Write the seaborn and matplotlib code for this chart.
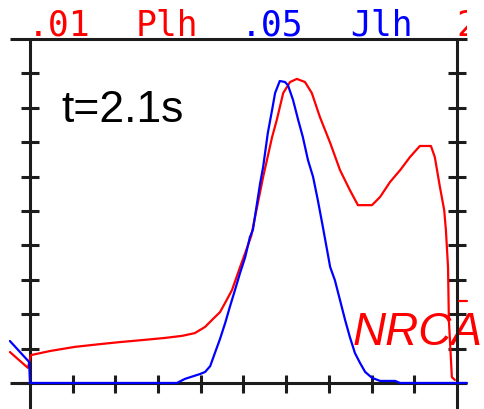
import matplotlib
matplotlib.use("Agg")
import matplotlib.pyplot as plt
from matplotlib.transforms import Bbox, TransformedBbox
import numpy as np
import pandas as pd
import seaborn as sns

# Plh trace (red)
red_x = [-0.47, -0.05, 0.02, 0.47, 1.05, 1.64, 2.11, 2.65, 3.16, 3.56, 3.86, 4.10,
         4.26, 4.45, 4.57, 4.73, 4.92, 5.04, 5.18, 5.46, 5.67, 5.78, 5.93, 6.09,
         6.25, 6.44, 6.60, 6.79, 7.03, 7.26, 7.49, 7.68, 8.01, 8.20, 8.43, 8.67,
         8.90, 9.13, 9.39, 9.48, 9.60, 9.70, 9.74, 9.79, 9.81, 9.88, 9.95]
red_y = [0.90, 0.44, 0.81, 0.93, 1.05, 1.13, 1.19, 1.25, 1.31, 1.37, 1.45, 1.63,
         1.83, 2.06, 2.33, 2.70, 3.37, 3.78, 4.27, 5.99, 7.15, 7.65, 8.43, 8.75,
         8.84, 8.75, 8.43, 7.73, 6.98, 6.19, 5.61, 5.17, 5.17, 5.41, 5.84, 6.19,
         6.57, 6.89, 6.89, 6.57, 5.70, 5.03, 4.45, 3.37, 1.83, 0.17, 0.09]

# Jlh trace (blue)
blue_x = [-0.47, -0.02, 0.0, 3.44, 3.63, 3.98, 4.10, 4.22, 4.33, 4.45, 4.57, 4.68,
          4.80, 4.92, 5.04, 5.15, 5.22, 5.39, 5.46, 5.57, 5.67, 5.74, 5.85, 5.97,
          6.04, 6.16, 6.28, 6.39, 6.51, 6.63, 6.74, 6.86, 7.03, 7.14, 7.26, 7.38,
          7.49, 7.61, 7.73, 7.85, 8.01, 8.20, 8.55, 8.67, 10.23]
blue_y = [1.22, 0.61, 0.0, 0.0, 0.12, 0.26, 0.32, 0.49, 0.87, 1.28, 1.74, 2.21,
          2.70, 3.20, 3.66, 4.24, 4.45, 5.81, 6.28, 7.27, 7.94, 8.43, 8.78, 8.75,
          8.66, 8.23, 7.65, 7.15, 6.48, 5.99, 5.32, 4.53, 3.37, 2.99, 2.41, 1.83,
          1.34, 0.87, 0.58, 0.32, 0.15, 0.06, 0.06, 0.0, 0.0]

# header labels along the top frame
header_labels = [".01", "Plh", ".05", "Jlh", "2"]
header_colors = ["#ff0000", "#ff0000", "#0000ff", "#0000ff", "#ff0000"]
header_pos = [0.68, 3.20, 5.67, 8.24, 10.22]

time_label = "t=2.1s"
method_label = "NRCA"

x_ticks = list(range(0, 11))
y_ticks = list(range(0, 10))

sns.set_style("white")
fig = plt.figure(figsize=(4.85, 4.09), dpi=100)
ax = fig.add_axes([0, 0, 1, 1])
ax.set_xlim(-0.7026, 10.656)
ax.set_ylim(-0.756, 11.134)
ax.axis("off")

# the scope display ends a little past the right frame
display_box = TransformedBbox(Bbox([[-0.7026, -0.756], [10.23, 11.134]]), ax.transData)

frame = "#1c1c1c"
lw_frame = 2.2
# frame lines
ax.plot([-0.47, 10.23], [10, 10], color=frame, lw=lw_frame, solid_capstyle="butt", zorder=3)
ax.plot([-0.47, 10.23], [0, 0], color=frame, lw=lw_frame, solid_capstyle="butt", zorder=3)
ax.plot([0, 0], [-0.756, 10], color=frame, lw=lw_frame, solid_capstyle="butt", zorder=3)
ax.plot([10, 10], [-0.756, 10], color=frame, lw=lw_frame, solid_capstyle="butt", zorder=3)

# tick marks
for yv in y_ticks:
    ax.plot([-0.22, 0.22], [yv, yv], color=frame, lw=lw_frame, solid_capstyle="butt", zorder=3)
    ax.plot([9.78, 10.22], [yv, yv], color=frame, lw=lw_frame, solid_capstyle="butt", zorder=3)
for xv in x_ticks[1:-1]:
    ax.plot([xv, xv], [-0.28, 0.24], color=frame, lw=lw_frame, solid_capstyle="butt", zorder=3)

df_red = pd.DataFrame({"x": red_x, "y": red_y})
df_blue = pd.DataFrame({"x": blue_x, "y": blue_y})
sns.lineplot(data=df_red, x="x", y="y", sort=False, estimator=None, color="#ff0000",
             lw=1.6, ax=ax, zorder=4)
sns.lineplot(data=df_blue, x="x", y="y", sort=False, estimator=None, color="#0000ff",
             lw=1.6, ax=ax, zorder=5)
ax.plot([10.05, 10.23], [2.38, 2.38], color="#ff0000", lw=1.6, zorder=4)

for lab, col, xp in zip(header_labels, header_colors, header_pos):
    t = ax.text(xp, 10.09, lab, color=col, family="DejaVu Sans Mono", fontsize=25,
                ha="center", va="baseline", zorder=6, clip_on=True)
    t.set_clip_box(display_box)

ax.text(0.74, 7.59, time_label, color="black", family="Liberation Sans", fontsize=32,
        ha="left", va="baseline", zorder=6)
ax.text(7.55, 1.10, method_label, color="#ff0000", family="Liberation Sans",
        fontsize=33, style="italic", ha="left", va="baseline", zorder=2)

ax.set_xlabel("")
ax.set_ylabel("")
fig.savefig("out.png", dpi=100)
